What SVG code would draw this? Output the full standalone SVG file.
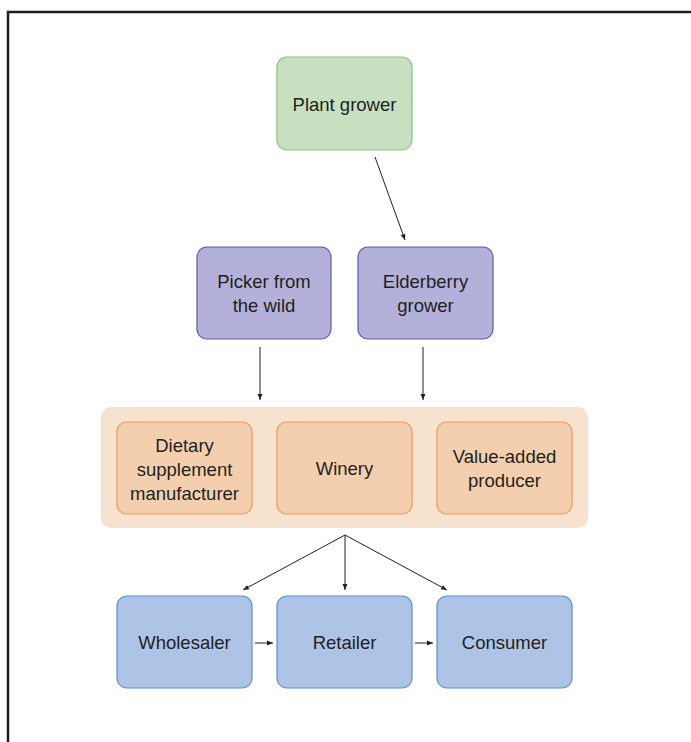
<svg xmlns="http://www.w3.org/2000/svg" width="691" height="742" viewBox="0 0 691 742">
<style>
text{font-family:"Liberation Sans",Arial,sans-serif;font-size:18.5px;fill:#231f20;text-anchor:middle}
.g{fill:#c6e0c0;stroke:#86c47e;stroke-width:1.2}
.p{fill:#b3b1da;stroke:#5d5aa8;stroke-width:1.2}
.o{fill:#f4cfae;stroke:#e89a5c;stroke-width:1.2}
.b{fill:#adc4e7;stroke:#5e90d0;stroke-width:1.2}
.c line{stroke:#231f20;stroke-width:1;marker-end:url(#ah)}
</style>
<defs>
<marker id="ah" viewBox="0 0 10 10" refX="10" refY="5" markerWidth="6" markerHeight="6" markerUnits="userSpaceOnUse" orient="auto"><path d="M0,1 L10,5 L0,9 Z" fill="#231f20"/></marker>
</defs>
<rect width="691" height="742" fill="#fff"/>
<path d="M8,742 V12 H691" fill="none" stroke="#1d1d1d" stroke-width="2.5"/>
<g id="container"><rect x="101" y="407" width="487" height="121" rx="10" fill="#f7e2cf"/></g>
<g id="plant"><rect class="g" x="277" y="57" width="135" height="93" rx="10"/><text x="344.5" y="111">Plant grower</text></g>
<g id="picker"><rect class="p" x="197" y="247" width="134" height="92" rx="10"/><text x="264" y="288">Picker from</text><text x="264" y="312">the wild</text></g>
<g id="elder"><rect class="p" x="358" y="247" width="135" height="92" rx="10"/><text x="425.5" y="288">Elderberry</text><text x="425.5" y="312">grower</text></g>
<g id="dietary"><rect class="o" x="117" y="422" width="135" height="92" rx="10"/><text x="184.5" y="452">Dietary</text><text x="184.5" y="476">supplement</text><text x="184.5" y="500">manufacturer</text></g>
<g id="winery"><rect class="o" x="277" y="422" width="135" height="92" rx="10"/><text x="344.5" y="475">Winery</text></g>
<g id="value"><rect class="o" x="437" y="422" width="135" height="92" rx="10"/><text x="504.5" y="463">Value-added</text><text x="504.5" y="487">producer</text></g>
<g id="wholesaler"><rect class="b" x="117" y="596" width="135" height="92" rx="10"/><text x="184.5" y="649">Wholesaler</text></g>
<g id="retailer"><rect class="b" x="277" y="596" width="135" height="92" rx="10"/><text x="344.5" y="649">Retailer</text></g>
<g id="consumer"><rect class="b" x="437" y="596" width="135" height="92" rx="10"/><text x="504.5" y="649">Consumer</text></g>
<g class="c" id="connectors">
<line x1="375" y1="157" x2="405" y2="240"/>
<line x1="260" y1="347" x2="260" y2="400"/>
<line x1="423" y1="347" x2="423" y2="400"/>
<line x1="345" y1="535" x2="243" y2="590"/>
<line x1="345" y1="535" x2="345" y2="590"/>
<line x1="345" y1="535" x2="447" y2="590"/>
<line x1="255" y1="643" x2="273" y2="643"/>
<line x1="415" y1="643" x2="433" y2="643"/>
</g>
</svg>
